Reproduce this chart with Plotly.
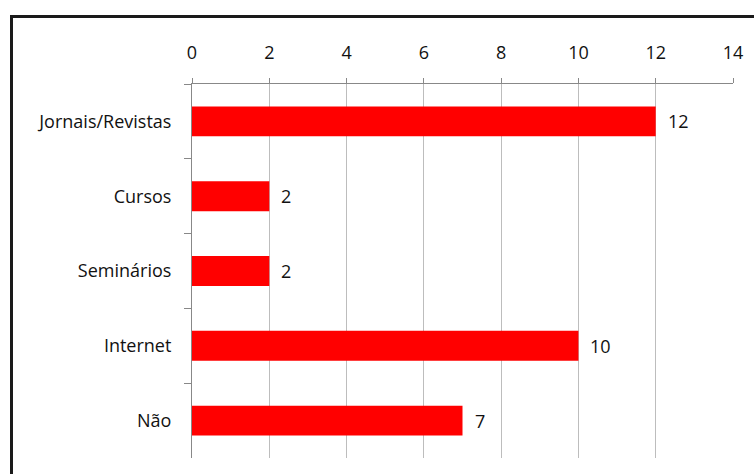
import plotly.graph_objects as go

categories = ["Jornais/Revistas", "Cursos", "Seminários", "Internet", "Não"]
values = [12, 2, 2, 10, 7]
x_ticks = [0, 2, 4, 6, 8, 10, 12, 14]

font_family = "Open Sans, DejaVu Sans, sans-serif"
fsize = 18

fig = go.Figure()
fig.add_trace(go.Bar(
    x=values, y=categories, orientation="h",
    marker=dict(color="#ff0000", line=dict(width=0)),
    width=0.4, hoverinfo="skip",
))

for c, v in zip(categories, values):
    fig.add_annotation(x=v, y=c, text=str(v), showarrow=False,
                       xanchor="left", xshift=10, yshift=0,
                       font=dict(family=font_family, size=fsize, color="#111"))

fig.update_layout(
    width=754, height=474,
    margin=dict(l=192, r=21, t=84, b=16),
    paper_bgcolor="white", plot_bgcolor="white",
    showlegend=False,
    font=dict(family=font_family, size=fsize, color="#111"),
    xaxis=dict(
        side="top", range=[0, 14], tickvals=x_ticks,
        showgrid=True, gridcolor="#bdbdbd", gridwidth=1.3,
        showline=True, linecolor="#888", linewidth=1,
        ticks="outside", ticklen=5, tickcolor="#888",
        ticklabelstandoff=12, zeroline=False, fixedrange=True,
    ),
    yaxis=dict(
        categoryorder="array", categoryarray=categories,
        autorange="reversed",
        showline=True, linecolor="#888", linewidth=1,
        ticks="outside", ticklen=7, tickcolor="#888",
        tickson="boundaries", ticklabelstandoff=16,
        showgrid=False,
    ),
    shapes=[dict(
        type="rect", xref="paper", yref="paper",
        x0=(11.5 - 192) / 541, x1=1.3,
        y0=-0.2, y1=(458 - 16.5) / 374,
        line=dict(color="#1a1a1a", width=3), layer="below",
    )],
)

fig.write_html("out.html")
